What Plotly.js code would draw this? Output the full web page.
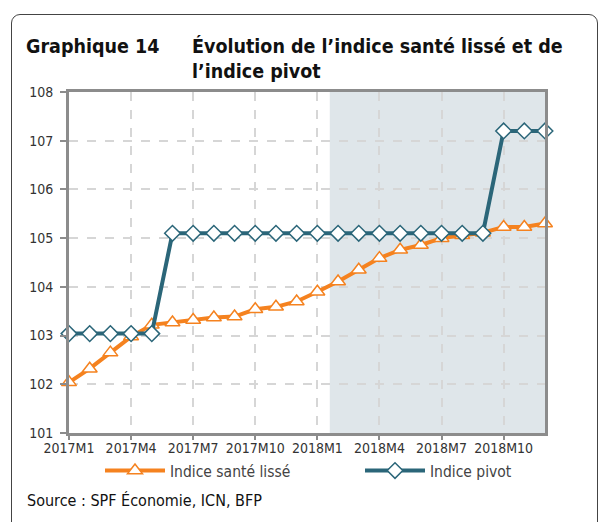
<!DOCTYPE html>
<html><head><meta charset="utf-8">
<script src="https://cdn.plot.ly/plotly-3.0.1.min.js"></script>
<style>
html,body{margin:0;padding:0;background:#fff;}
#wrap{position:relative;width:598px;height:522px;overflow:hidden;}
#frame{position:absolute;left:11px;top:14px;width:587px;height:600px;border:1.5px solid #444;border-radius:9px;box-sizing:border-box;}
#chart{position:absolute;left:0;top:0;width:598px;height:522px;}
</style></head>
<body><div id="wrap"><div id="frame"></div><div id="chart"></div></div>
<script>
const months = ["2017M1","2017M2","2017M3","2017M4","2017M5","2017M6","2017M7","2017M8","2017M9","2017M10","2017M11","2017M12",
"2018M1","2018M2","2018M3","2018M4","2018M5","2018M6","2018M7","2018M8","2018M9","2018M10","2018M11","2018M12"];
const santeLisse = [102.04,102.32,102.65,102.98,103.22,103.27,103.32,103.37,103.39,103.54,103.59,103.70,
103.90,104.11,104.35,104.59,104.76,104.86,105.00,105.06,105.11,105.23,105.23,105.30];
const pivot = [103.04,103.04,103.04,103.04,103.04,105.10,105.10,105.10,105.10,105.10,105.10,105.10,
105.10,105.10,105.10,105.10,105.10,105.10,105.10,105.10,105.10,107.20,107.20,107.20];
const tickLabels = ["2017M1","2017M4","2017M7","2017M10","2018M1","2018M4","2018M7","2018M10"];
const forecastStart = 12.6;

const idx = months.map((m,i)=>i);
const tickIdx = tickLabels.map(t=>months.indexOf(t));
const FONT = "DejaVu Sans Condensed, DejaVu Sans, sans-serif";
const orange = "#F5821F", teal = "#2B6679";

const traces = [
 {x: idx, y: santeLisse, name: "Indice santé lissé", type: "scatter", mode: "lines+markers", legend: "legend",
  cliponaxis: false, line: {color: orange, width: 4},
  marker: {symbol: "triangle-up", size: 13, color: "#fff", line: {color: orange, width: 1.5}}},
 {x: idx, y: pivot, name: "Indice pivot", type: "scatter", mode: "lines+markers", legend: "legend2",
  cliponaxis: false, line: {color: teal, width: 4},
  marker: {symbol: "diamond", size: 12, color: "#fff", line: {color: teal, width: 1.5}}}
];

const px2x = p => (p-69)/476, px2y = p => (433-p)/341;
const legFont = {family: FONT, size: 15.5, color: "#444"};

const layout = {
 width: 598, height: 522,
 margin: {l: 69, r: 53, t: 92, b: 89, pad: 0},
 paper_bgcolor: "rgba(0,0,0,0)", plot_bgcolor: "#fff",
 font: {family: FONT, size: 14, color: "#333"},
 showlegend: true,
 legend: {orientation: "h", x: px2x(100), xanchor: "left", y: px2y(471), yanchor: "middle",
   itemwidth: 60, font: legFont, bgcolor: "rgba(0,0,0,0)"},
 legend2: {orientation: "h", x: px2x(360), xanchor: "left", y: px2y(471), yanchor: "middle",
   itemwidth: 60, font: legFont, bgcolor: "rgba(0,0,0,0)"},
 xaxis: {range: [0, 23], tickmode: "array", tickvals: tickIdx, ticktext: tickLabels,
   showgrid: true, gridcolor: "#d6d6d6", gridwidth: 2, griddash: "dash",
   showline: true, linecolor: "#8c8c8c", linewidth: 3, mirror: true,
   ticks: "outside", ticklen: 4, tickcolor: "#8c8c8c", tickwidth: 2, ticklabelstandoff: -4,
   tickfont: {family: FONT, size: 14, color: "#333"}, zeroline: false, fixedrange: true},
 yaxis: {range: [101, 108], tickvals: [101,102,103,104,105,106,107,108],
   showgrid: true, gridcolor: "#d6d6d6", gridwidth: 2, griddash: "dash",
   showline: true, linecolor: "#8c8c8c", linewidth: 3, mirror: true,
   ticks: "outside", ticklen: 6, tickcolor: "#8c8c8c", tickwidth: 2, ticklabelstandoff: 4,
   tickfont: {family: FONT, size: 14, color: "#333"}, zeroline: false, fixedrange: true},
 shapes: [
  {type: "rect", xref: "x", yref: "paper", x0: forecastStart, x1: 23, y0: 0, y1: 1,
   fillcolor: "#DFE6EA", line: {width: 0}, layer: "below"}
 ],
 annotations: [
  {text: "<b>Graphique 14</b>", xref: "paper", yref: "paper", x: px2x(24), y: px2y(33),
   xanchor: "left", yanchor: "top", showarrow: false, align: "left",
   font: {family: FONT, size: 19.5, color: "#111"}},
  {text: "<b>Évolution de l’indice santé lissé et de<br>l’indice pivot</b>", xref: "paper", yref: "paper",
   x: px2x(190), y: px2y(33), xanchor: "left", yanchor: "top", showarrow: false, align: "left",
   font: {family: FONT, size: 19.5, color: "#111"}},
  {text: "Source : SPF Économie, ICN, BFP", xref: "paper", yref: "paper", x: px2x(25), y: px2y(500),
   xanchor: "left", yanchor: "middle", showarrow: false, align: "left",
   font: {family: FONT, size: 16, color: "#111"}}
 ]
};
Plotly.newPlot("chart", traces, layout, {displayModeBar: false, staticPlot: true});
</script></body></html>
